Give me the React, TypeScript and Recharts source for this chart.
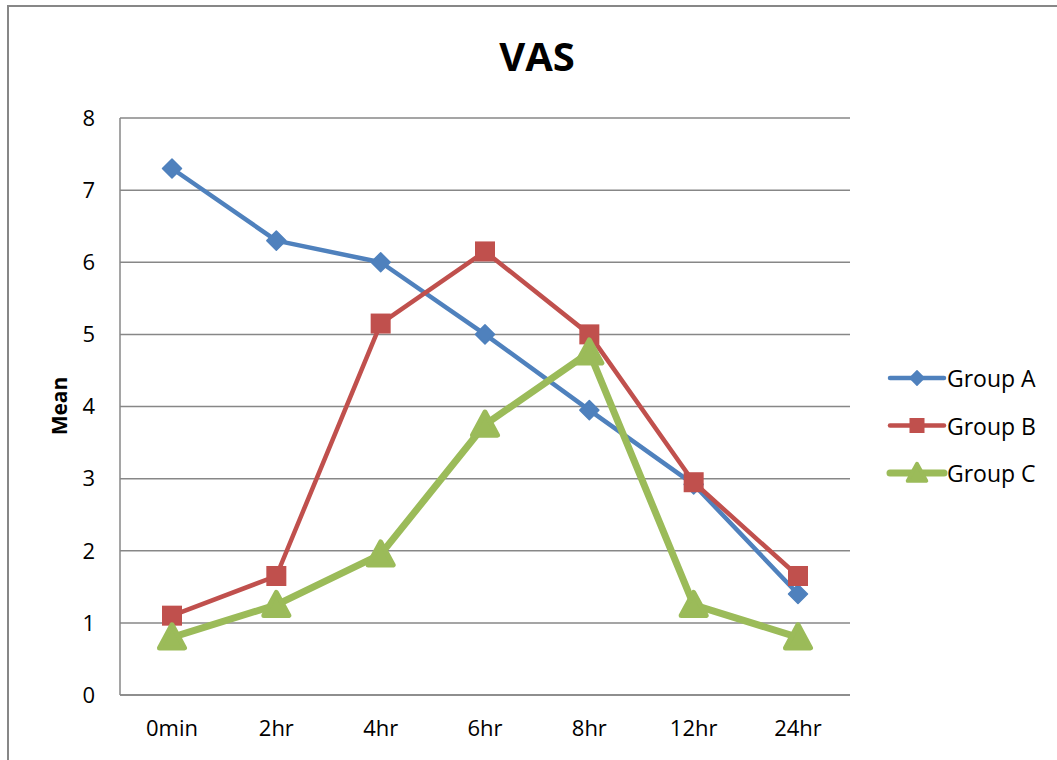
import { LineChart, Line, XAxis, YAxis, CartesianGrid } from 'recharts'

const TIMES = ['0min', '2hr', '4hr', '6hr', '8hr', '12hr', '24hr']
const GROUP_A = [7.3, 6.3, 6.0, 5.0, 3.95, 2.92, 1.4]
const GROUP_B = [1.1, 1.65, 5.15, 6.15, 5.0, 2.95, 1.65]
const GROUP_C = [0.8, 1.25, 1.95, 3.75, 4.75, 1.25, 0.8]
const Y_TICKS = [0, 1, 2, 3, 4, 5, 6, 7, 8]

const FONT = '"Open Sans", "Noto Sans", sans-serif'
const AXIS_GRAY = '#878787'

type Shape = 'diamond' | 'square' | 'triangle'

const SERIES: { key: string; name: string; color: string; width: number; shape: Shape }[] = [
  { key: 'a', name: 'Group A', color: '#4F81BD', width: 4.5, shape: 'diamond' },
  { key: 'b', name: 'Group B', color: '#C0504D', width: 4.5, shape: 'square' },
  { key: 'c', name: 'Group C', color: '#9BBB59', width: 7, shape: 'triangle' },
]

const data = TIMES.map((t, i) => ({ time: t, a: GROUP_A[i], b: GROUP_B[i], c: GROUP_C[i] }))

function Marker({ shape, cx, cy, color, scale = 1 }: { shape: Shape; cx: number; cy: number; color: string; scale?: number }) {
  if (shape === 'diamond') {
    const r = 9.5 * scale
    return <path d={`M${cx},${cy - r}L${cx + r},${cy}L${cx},${cy + r}L${cx - r},${cy}Z`} fill={color} stroke={color} strokeWidth={1.5} strokeLinejoin="round" />
  }
  if (shape === 'square') {
    const r = 10 * scale
    return <rect x={cx - r} y={cy - r} width={2 * r} height={2 * r} fill={color} />
  }
  const w = 12.5 * scale
  const h = 12.5 * scale
  return (
    <path
      d={`M${cx},${cy - h}L${cx + w},${cy + h * 0.85}L${cx - w},${cy + h * 0.85}Z`}
      fill={color}
      stroke={color}
      strokeWidth={5 * scale}
      strokeLinejoin="round"
    />
  )
}

function LegendBox() {
  return (
    <svg width={170} height={140} style={{ fontFamily: FONT, display: 'block' }}>
      {SERIES.map((s, i) => {
        const y = 23 + i * 47.5
        return (
          <g key={s.key}>
            <line x1={4} x2={58} y1={y} y2={y} stroke={s.color} strokeWidth={s.width} strokeLinecap="round" />
            <Marker shape={s.shape} cx={31} cy={y} color={s.color} scale={0.75} />
            <text x={61} y={y} dominantBaseline="central" fontSize={23} fill="#000">
              {s.name}
            </text>
          </g>
        )
      })}
    </svg>
  )
}

export default function App() {
  return (
    <div style={{ position: 'absolute', left: 0, top: 0, width: 1057, height: 760, overflow: 'hidden', background: '#fff', fontFamily: FONT }}>
      <div style={{ position: 'absolute', left: 7, top: 5, width: 1200, height: 900, borderTop: `2px solid ${AXIS_GRAY}`, borderLeft: `2px solid ${AXIS_GRAY}` }} />
      <div style={{ position: 'absolute', left: 0, top: 29, width: 1074, textAlign: 'center', fontSize: 40, lineHeight: '54px', fontWeight: 700 }}>
        VAS
      </div>
      <div style={{ position: 'absolute', left: 0, top: 0 }}>
        <LineChart width={1057} height={760} data={data} margin={{ top: 118, right: 207, bottom: 35, left: 60 }}>
          <CartesianGrid vertical={false} stroke={AXIS_GRAY} strokeWidth={1.5} />
          <XAxis
            dataKey="time"
            padding={{ left: 52, right: 52 }}
            axisLine={{ stroke: AXIS_GRAY, strokeWidth: 1.5 }}
            tickLine={false}
            tickSize={0}
            tickMargin={25}
            height={30}
            tick={{ fontSize: 22, fill: '#000' }}
          />
          <YAxis
            domain={[0, 8]}
            ticks={Y_TICKS}
            width={60}
            axisLine={{ stroke: AXIS_GRAY, strokeWidth: 1.5 }}
            tickLine={false}
            tickSize={0}
            tickMargin={25}
            tick={{ fontSize: 22, fill: '#000' }}
            label={{
              content: () => (
                <text x={59} y={406} transform="rotate(-90 59 406)" textAnchor="middle" dominantBaseline="central" fontSize={21} fontWeight={700} fill="#000">
                  Mean
                </text>
              ),
            }}
          />
          {SERIES.map((s) => (
            <Line
              key={s.key}
              dataKey={s.key}
              name={s.name}
              type="linear"
              stroke={s.color}
              strokeWidth={s.width}
              strokeLinejoin="round"
              isAnimationActive={false}
              dot={(p: any) => <Marker key={`${s.key}-${p.index}`} shape={s.shape} cx={p.cx} cy={p.cy} color={s.color} />}
              activeDot={false}
            />
          ))}
        </LineChart>
      </div>
      <div style={{ position: 'absolute', left: 886, top: 355 }}>
        <LegendBox />
      </div>
    </div>
  )
}
